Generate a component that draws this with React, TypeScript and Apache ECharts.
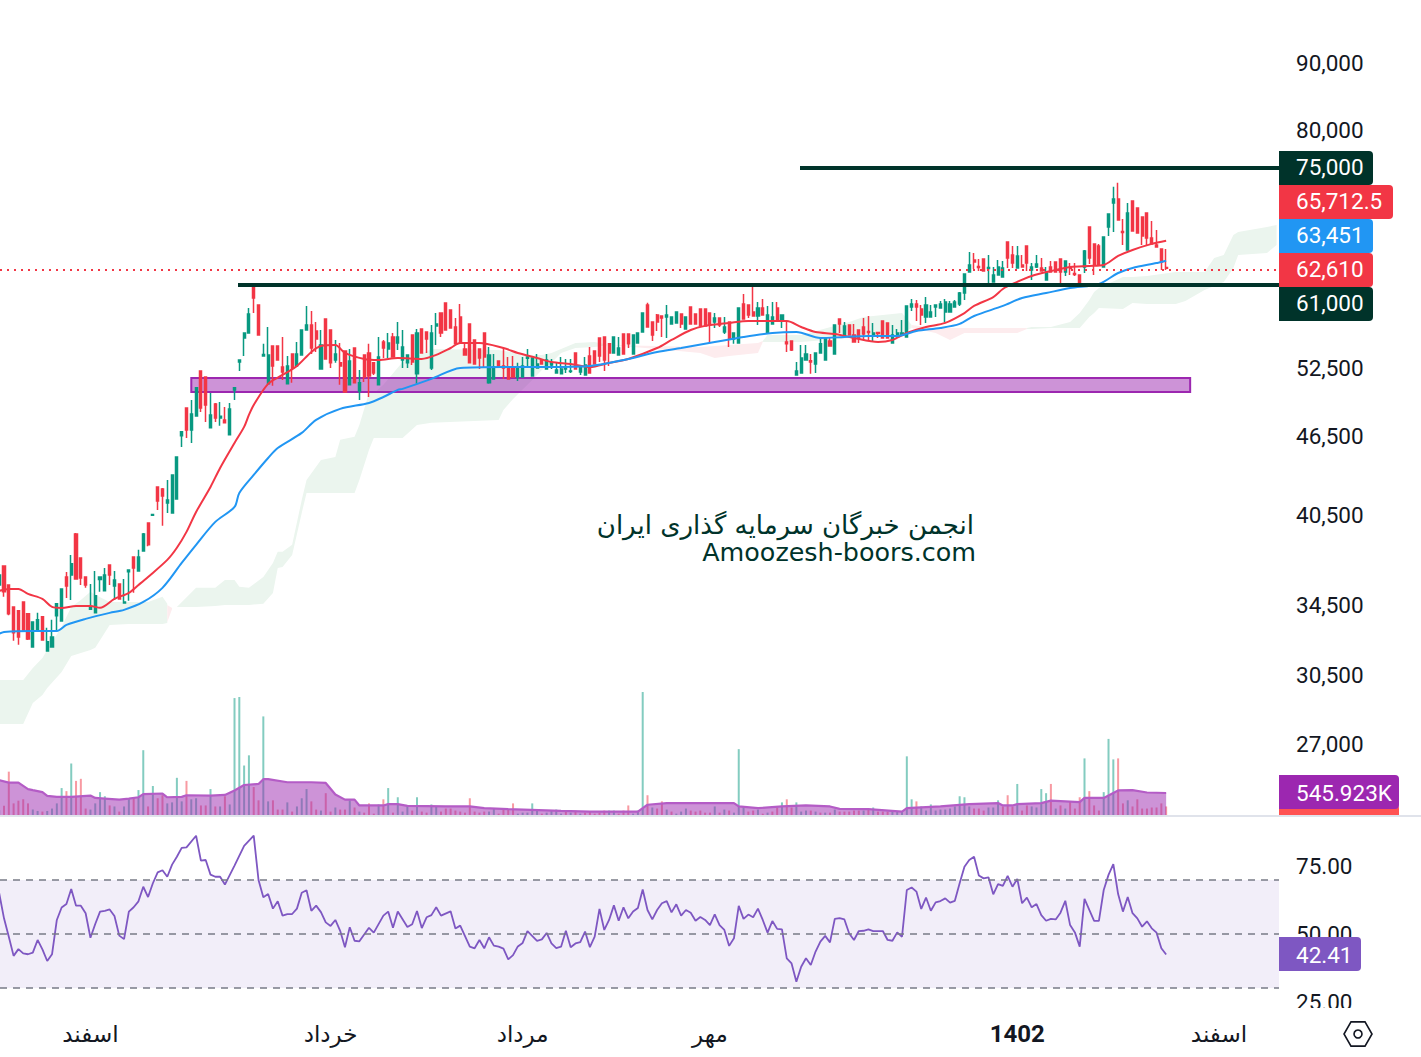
import React, { useEffect, useRef } from "react";
import * as echarts from "echarts";

// open, close, low, high
const candles: number[][] = [
[35760,36400,35760,36400],[36980,35330,35020,36980],[35760,33980,33900,35760],[34400,32860,32400,34400],[34160,32620,32170,34160],[34700,33030,33000,34700],[33980,32500,32450,33980],[32050,33500,32050,33500],[33030,33620,33000,34040],[33800,32450,32400,33800],
[31820,32340,31800,33150],[32050,32620,32000,33620],[33860,34590,33030,34590],[33560,35510,33560,35510],[36270,35700,34950,36590],[36400,37120,34830,37710],[39140,36140,36100,39200],[37510,36210,35760,37510],[36270,35760,35580,36270],[34250,34350,34250,35820],
[34040,35080,34040,36660],[36100,36270,35330,36270],[35390,36400,35390,36850],[37050,36400,35760,37100],[35700,36080,34830,36660],[35820,34890,34850,35820],[34640,34700,34640,36140],[36600,36720,34770,36720],[37580,36850,35270,37580],[36660,37580,36660,38050],
[37980,39140,37950,39200],[39910,38390,38300,39910],[40450,40500,40400,40550],[42530,41490,40830,42530],[42370,41850,39700,42450],[41340,41560,40620,43060],[40620,43440,40620,43500],[41630,44840,41630,44840],[46550,46880,45640,46880],[48900,47040,46380,48950],
[47040,48390,45970,49600],[48220,50670,48200,50670],[52210,48900,48560,52210],[51660,49160,47710,51660],[47210,48300,47210,50220],[49250,48050,47710,49340],[48050,48200,47380,49420],[47880,47630,47600,48990],[46630,48820,46630,49340],[50490,50670,49600,50670],
[53050,53240,52210,53240],[55340,55830,53610,55830],[55830,57740,55830,58360],[60780,59400,57840,60900],[58670,55640,55600,58670],[53610,53750,53610,54770],[51030,53710,51030,56430],[54570,52670,50850,54570],[54570,53240,53200,54570],[52580,52110,51390,55440],
[51030,52670,51030,53610],[53800,52490,51120,53800],[52670,53800,52670,54950],[53710,56130,53710,56130],[56130,56640,56130,58570],[56640,54370,53800,58050],[56030,55250,53990,56940],[52390,54670,52390,56130],[57240,53330,53300,57240],[56130,52960,52490,56130],
[53240,53800,52960,55150],[52960,52670,50940,54860],[54090,50310,50300,54090],[50940,53140,50940,54280],[54370,51120,51100,54370],[50400,51120,49600,52300],[53710,51660,51210,53710],[53900,51750,49860,54770],[52960,52020,51840,52960],[50940,53520,50940,55440],
[54950,54370,53420,55150],[54280,54860,53420,55830],[55440,53520,53520,55830],[54860,55440,54180,56940],
[53240,54470,52490,56130],[52960,53710,52490,53710],[55640,53050,52770,55640],[51940,55830,51030,56230],[56230,53900,53850,56230],[55930,55250,53900,55930],[52490,55830,52300,56640],[56540,56740,54670,57840],[57840,55830,55440,57840],[58880,56130,56100,58880],
[58150,56330,56300,58150],[56430,54770,54770,57340],[57440,54860,54860,58780],[54280,53710,53700,54950],[56740,52960,52950,56740],[55150,52860,52800,55150],[54280,53420,52390,54280],[55830,53520,52490,55830],[51120,53710,51030,54470],[51480,52580,51480,53800],
[53140,52580,52550,53140],[52670,52490,51480,54370],[52580,51480,51480,53520],[52490,51660,51660,53610],[51660,52490,51300,52960],[51660,52670,51660,53520],[53400,53520,52580,54280],[51750,53420,51750,53420],[52490,52860,52490,53800],[53240,52860,52800,53240],
[52390,53240,52390,53800],[52770,52960,52390,53330],[52020,52300,52020,53050],[51940,52390,51940,53520],[52400,52490,52020,53330],[52150,52210,52020,53330],[53900,52390,52390,53900],[52110,52580,51840,52770],[51840,52770,51840,53520],[53610,52020,52020,54470],
[54090,52860,52860,54090],[55340,53610,53050,55340],[55440,53240,52210,55440],[54770,53900,52670,54770],[53900,55440,53900,55500],[53710,54370,53710,55440],[55740,53800,53800,55740],[55740,54770,54370,55740],[53800,55640,53800,55640],[54860,55830,54860,55830],
[55930,57840,55930,57840],[58670,56430,56430,58900],[56940,55640,55050,56940],[57640,56940,56030,57740],[57540,57340,55440,57540],[57440,57640,55340,58670],[56740,57440,56740,57440],[56840,57950,56840,57950],[57740,56740,56330,57740],[56230,57440,56230,57440],
[58460,56740,56740,58460],[57740,56740,56740,57740],[58250,56540,56540,58250],[58250,56540,56540,58250],[57840,56640,54860,57840],[56940,57340,56330,57840],[57340,56640,56430,57340],[55930,56430,55740,57440],[56940,55250,54470,56940],[55250,55830,54770,55830],
[54860,58360,54860,58360],[58780,57240,57240,59820],[58670,57640,57340,58670],[57950,57540,57540,60780],[57540,58360,56640,58980],[58360,57640,57640,59290],[55830,57640,55830,58570],[56740,57440,56740,58980],[58360,57140,57140,58980],[57140,57640,56330,57640],
[54950,54770,53990,56940],[55050,54180,54090,55050],[51840,52210,51840,53050],[52020,53420,52020,54670],[53240,53800,53240,54670],[53150,53050,51940,53800],[52860,53900,52020,53900],[53900,54770,53900,55440],[53240,55340,53240,55340],[55050,54570,54570,55340],
[53800,56640,53800,56640],[57240,56740,55830,57240],[55540,56540,55540,56940],[56640,55640,55640,56640],[55640,54950,54950,56740],[56130,55340,54860,56130],[56430,55740,55150,57340],[55980,55880,55150,57540],[55540,55830,54950,56840],[55880,55780,55340,55930],
[57040,55340,55340,57040],[56840,55340,55340,56840],[54860,55640,54860,56640],[55440,55830,55440,56230],[55650,55830,55640,57140],[55440,58570,55440,58570],[58460,58780,58050,59290],[58780,58460,57040,59190],[58250,57640,56640,58670],[57440,58670,56840,59500],
[57440,57950,57440,58670],[58460,58670,57440,58670],[58360,58780,58360,59080],[57950,58980,56940,59290],[57950,58780,57950,59080],[58460,58980,58460,59190],[58780,59920,58570,60030],[59920,61980,59190,61980],[62190,62970,62190,64430],[63530,63300,62520,64320],
[62800,62700,62300,63640],[63640,62300,62300,63640],[62580,62680,60670,64090],[61100,61860,61100,62750],[61860,62750,61860,63530],[61640,62630,61640,63420],[65590,63750,62630,65590],[64090,63190,62630,65120],[62630,63980,62630,65120],[62970,62750,62750,64090],
[65120,63190,62300,65120],[62410,62750,61320,63190],[62750,63080,62630,64090],[62630,62300,62300,63750],[61320,62190,61320,62750],[62750,62190,62190,63420],[63300,62190,62190,63300],[63640,62190,60560,63640],[62190,63420,61750,63420],[62680,62580,61860,63190],
[62030,61930,61750,63190],[61860,60890,60890,61860],[62750,64550,62080,64660],[67350,63750,63080,67350],[65360,62970,61860,65360],[65120,62970,62970,65360],[62750,66170,62750,66170],[67350,68900,66290,68900],[70270,70770,66750,72300],[70770,68190,68190,72820],
[66800,66700,65240,68310],[64660,69030,64660,70270],[70520,66870,66870,70520],[69650,66640,66640,69650],[68550,66290,65240,68550],[69030,66050,65240,69030],[66050,65360,65360,68070],[65240,65010,65010,66990],[64770,63300,62410,64770],[62700,62610,62410,64770],
];

const fastMA: number[][] = [[0,35390],[2,35510],[4,35510],[6,35200],[9,34890],[11,34400],[13,34340],[16,34460],[19,34460],[21,34350],[24,34890],[27,35270],[29,35760],[31,36270],[35,37380],[37,38190],[39,39280],[41,40690],[44,42530],[46,43980],[49,45970],[51,47290],[52,48300],[53,49160],[56,51030],[59,51840],[62,52670],[65,53990],[67,54570],[70,54670],[72,53900],[76,53330],[79,53240],[83,53420],[88,53330],[91,53710],[94,54370],[96,54860],[100,54860],[105,54370],[108,53900],[112,53420],[115,53050],[119,52860],[123,52580],[127,52960],[131,53330],[137,54370],[140,55150],[144,56130],[147,56540],[152,56840],[156,57040],[160,57040],[164,57040],[167,56430],[170,55930],[174,55740],[178,55340],[183,54950],[186,55150],[189,55830],[193,56430],[197,56840],[201,57840],[203,58570],[207,59500],[209,60350],[211,60890],[215,61750],[219,62300],[223,62750],[227,62860],[230,62970],[233,63980],[236,64660],[240,65360],[243,65712.5]];

const slowMA: number[][] = [[0,32800],[1,32910],[7,32970],[12,32970],[14,33320],[18,33680],[23,34040],[26,34220],[30,34700],[34,35580],[38,37180],[41,38390],[45,39980],[49,41050],[50,42080],[53,43440],[56,44760],[58,45560],[63,46790],[66,47880],[71,48820],[77,49340],[80,49860],[83,50490],[84,50580],[90,51480],[96,52490],[105,52580],[114,52580],[123,52670],[131,53330],[137,53990],[142,54370],[149,54950],[155,55440],[161,55830],[166,55930],[171,55340],[176,55440],[181,55540],[187,55540],[191,56030],[196,56330],[200,56740],[203,57540],[209,58570],[213,59400],[218,59920],[223,60450],[229,60890],[233,62080],[236,62630],[241,63190],[243,63451]];

// [index, upper, lower]
const cloudGreenA: number[][] = [[0,30230,27970],[5,30230,27970],[7,30880,29030],[9,31430,29440],[10,31880,29810],[13,33210,30660],[15,34400,31540],[17,34830,31710],[19,35330,31880],[20,35140,32000],[23,34700,33320],[27,34700,33380],[31,34700,33380],[34,35020,33380],[35,34590,33440]];
const cloudRedA: number[][] = [[35,34520,33500],[36,34340,34280]];
const cloudGreenB: number[][] = [[37,34400,34400],[41,35580,34400],[45,35580,34460],[47,36080,34520],[49,36080,34520],[50,35640,34520],[52,35580,34520],[55,36270,34590],[57,37180,35260],[58,37920,36850],[59,37920,36920],[61,38390,37710],[63,41560,40620],[64,43060,42080],[67,44600,42080],[70,44840,42080],[71,46220,42080],[74,46470,42080],[75,47460,43060],[77,50220,45400],[78,50220,46380],[80,50940,46380],[84,53050,46380],[87,53610,47460],[90,54280,47630],[104,54180,47880],[105,54090,48730],[107,53990,49690],[111,53710,51390],[113,53710,52300],[115,53900,52960],[117,54280,53900],[120,54860,54370],[124,54950,54470],[127,54670,54670]];
const cloudRedC: number[][] = [[127,54670,54670],[137,54570,54280],[146,54470,53900],[149,54570,53420],[152,54670,53610],[158,54860,53900],[159,55050,54950]];
const cloudGreenD: number[][] = [[159,55050,54950],[160,55640,54950],[167,55640,54950],[177,56940,55340],[180,57440,55440],[188,57840,55830],[190,56640,56330]];
const cloudRedE: number[][] = [[190,56640,56330],[195,56330,55830],[198,56330,55150],[201,56330,55830],[212,56330,55830],[214,56330,56230]];
const cloudGreenF: number[][] = [[214,56330,56230],[215,56430,56230],[219,56430,56330],[223,56940,56330],[225,57840,56330],[227,59190,57440],[228,60030,57840],[229,60450,58360],[234,61640,58250],[236,61640,58880],[239,61750,58780],[245,62190,58780],[247,62190,59080],[251,62190,60240],[253,63750,60670],[255,64090,61100],[257,66400,62630],[258,66750,64090],[264,67350,64320],[266,67590,65240]];

const volumes: number[] = [
120,228,1075,288,355,390,288,135,100,85,
100,160,288,668,592,1277,846,897,160,135,
288,567,465,237,212,85,212,415,415,618,
1607,212,719,415,490,288,313,922,338,846,
389,415,237,237,643,212,212,465,262,2900,
2927,1227,1480,694,364,2445,338,364,135,135,
313,85,212,415,643,338,135,110,541,85,
186,135,135,364,186,85,59,288,34,262,
389,668,59,440,85,212,110,440,85,59,
262,212,85,160,160,110,85,59,415,85,
59,85,85,160,34,135,135,288,34,59,
59,288,135,34,59,110,135,34,85,59,
110,34,59,85,34,59,110,110,110,34,
110,237,34,110,3050,490,186,160,338,135,
85,34,85,160,110,85,110,59,59,212,
59,135,110,59,1633,186,85,110,135,34,
59,85,186,313,389,186,313,85,110,110,
85,59,59,59,135,85,85,85,110,110,
110,160,186,85,85,85,85,85,85,1455,
389,338,212,110,262,110,135,135,160,212,
465,440,212,160,160,110,186,186,364,212,
490,212,770,110,237,212,186,643,541,770,
160,237,160,338,160,440,1404,592,237,110,
567,1887,1379,1404,288,364,212,389,160,160,
186,186,288,212];
const volumeSides = "grrrrrrggr"+"ggggrgrrrg"+"gggrgrggrg"+"grgrrggggr"+"ggrrgrgrgg"+"gggrrggrrr"+"grgggrrgrr"+"grrgrgrrrg"+"rgrgggrgrr"+"ggrrrrrrrr"+"rrggrrrrgg"+"gggrggggrg"+"rgrrrrrggr"+"rrgggrgrrg"+"rgggrrrrrg"+"rgrgggrrgr"+"grrgrrgggr"+"grgrgrrrrr"+"grgrrrgggg"+"grgggggggg"+"gggrrrgggr"+"rrgrrggggr"+"grgrrrgrrr"+"gggrrgrrrr"+"rrrr";

const volumeMA: number[][] = [[0,863],[2,803],[4,803],[6,643],[7,617],[9,567],[10,474],[12,449],[15,449],[19,482],[20,423],[22,406],[25,381],[27,406],[29,440],[30,516],[34,533],[35,440],[38,449],[39,490],[44,482],[47,499],[49,609],[51,744],[54,770],[55,888],[56,888],[60,812],[65,812],[68,795],[70,507],[72,381],[74,381],[75,237],[80,237],[81,271],[83,271],[85,228],[93,212],[98,212],[101,169],[106,144],[117,101],[123,85],[133,85],[134,169],[135,254],[139,296],[147,296],[153,296],[154,212],[158,169],[163,212],[168,237],[173,212],[175,152],[181,144],[188,85],[189,169],[196,212],[202,271],[208,296],[209,237],[211,237],[212,271],[217,296],[219,355],[225,321],[226,423],[230,423],[233,609],[236,618],[239,558],[243,545.923]];

const rsi: number[][] = [[0,65.1],[1,55.8],[2,49.0],[3,41.9],[4,44.4],[5,42.8],[6,42.5],[7,43.1],[8,47.8],[9,44.3],[10,40.0],[11,42.5],[12,55.2],[13,59.8],[14,61.1],[15,66.7],[16,60.5],[17,60.5],[18,57.7],[19,48.6],[20,53.7],[21,58.3],[22,58.6],[23,59.1],[24,56.7],[25,49.4],[26,48.1],[27,58.3],[28,59.9],[29,62.1],[30,67.5],[31,63.7],[32,68.8],[33,72.8],[34,73.6],[35,71.2],[36,75.7],[37,78.6],[38,81.9],[39,82.1],[41,86.4],[42,77.2],[43,77.4],[44,72.0],[45,71.2],[46,71.2],[47,68.3],[49,75.3],[51,82.6],[53,86.4],[54,70.0],[55,63.6],[56,64.8],[57,59.4],[58,62.1],[59,56.8],[60,57.4],[61,57.4],[62,59.4],[63,65.3],[64,66.2],[65,58.6],[66,60.5],[67,58.1],[68,54.3],[69,53.0],[70,55.2],[71,51.2],[72,45.1],[73,52.5],[74,47.5],[75,47.3],[77,52.3],[78,50.5],[80,56.8],[81,58.3],[82,52.3],[83,58.3],[85,52.6],[86,53.6],[87,58.5],[88,52.2],[89,56.2],[90,57.0],[91,59.9],[92,56.8],[94,58.4],[95,52.0],[96,53.1],[98,45.3],[99,44.7],[100,47.8],[101,44.7],[102,48.8],[103,45.7],[104,45.3],[105,44.6],[106,40.6],[107,42.2],[108,45.4],[109,46.7],[110,51.1],[112,47.5],[113,48.0],[114,50.4],[115,46.5],[116,44.8],[117,45.3],[118,51.2],[119,45.1],[120,46.5],[121,47.0],[122,50.9],[123,45.1],[124,49.0],[125,59.3],[126,51.5],[127,55.2],[128,60.6],[129,54.9],[130,59.9],[131,55.8],[132,58.3],[133,59.6],[134,66.5],[135,58.9],[136,55.4],[137,58.9],[138,61.4],[139,62.2],[140,58.0],[141,61.0],[142,56.8],[143,58.9],[144,57.9],[145,54.9],[146,56.3],[147,55.2],[148,53.3],[149,57.3],[150,53.3],[151,51.5],[152,45.6],[153,48.4],[154,60.4],[155,55.6],[156,57.2],[157,56.2],[158,59.4],[159,55.2],[160,50.5],[161,54.8],[162,51.9],[163,51.7],[164,41.0],[165,39.1],[166,32.3],[167,37.9],[168,41.0],[169,38.5],[170,43.5],[171,47.2],[172,49.3],[173,46.9],[174,55.6],[175,55.9],[176,55.4],[177,50.2],[178,47.8],[179,51.1],[180,51.2],[181,51.7],[182,51.1],[183,51.1],[184,51.1],[185,47.8],[186,47.5],[187,50.6],[188,49.0],[189,66.3],[190,67.2],[191,65.7],[192,59.3],[193,63.5],[194,58.6],[195,61.7],[196,62.2],[197,63.2],[198,61.6],[199,62.3],[200,68.8],[201,74.9],[202,77.4],[203,78.6],[204,71.7],[205,70.6],[206,71.0],[207,64.7],[208,68.5],[209,67.8],[210,71.5],[211,67.5],[212,70.4],[213,61.4],[214,63.5],[215,59.9],[216,61.1],[217,57.0],[218,54.9],[219,55.6],[220,55.4],[221,57.9],[222,62.3],[223,53.3],[224,50.6],[225,45.3],[226,63.0],[227,58.9],[228,54.9],[229,54.9],[230,66.3],[231,71.9],[232,75.9],[233,64.8],[234,58.3],[235,63.7],[236,57.7],[237,55.8],[238,52.7],[239,54.7],[240,52.1],[241,50.5],[242,44.7],[243,42.41]];

const priceTicks = [27000, 30500, 34500, 40500, 46500, 52500, 80000, 90000];
const rsiTicks = [25, 50, 75];
const timeLabels: Record<number, string> = { 19: "اسفند", 69: "خرداد", 109: "مرداد", 148: "مهر", 212: "1402", 254: "اسفند" };
const categories: string[] = Array.from({ length: 267 }, (_, i) => timeLabels[i] ?? "");
const zoneBox = { from: 40, to: 248, upper: 51570, lower: 50310 };
const level75 = { value: 74800 };
const level61 = { value: 60790 };
const lastPrice = 62430;

const UP = "#089981";
const DOWN = "#f23645";
const DARK = "#00332a";
const TEXT = "#131722";
const AXIS_FONT = "Roboto, sans-serif";
const PERSIAN_FONT = "'DejaVu Sans', sans-serif";
const RIGHT = 1279;

function cloudSeries(rows: number[][], fill: string) {
  return {
    type: "custom",
    xAxisIndex: 0,
    yAxisIndex: 0,
    z: 1,
    silent: true,
    clip: true,
    data: rows,
    encode: { x: 0, y: [1, 2] },
    renderItem: (params: any, api: any) => {
      if (params.dataIndex !== 0) return null;
      const upper = rows.map((r) => api.coord([r[0], r[1]]));
      const lower = rows.map((r) => api.coord([r[0], r[2]])).reverse();
      return { type: "polygon", shape: { points: upper.concat(lower) }, style: { fill } };
    },
  };
}

function tag(y: number, h: number, w: number, color: string, text: string, textY: number) {
  return [
    { type: "rect", z: 100, shape: { x: RIGHT, y, width: w, height: h, r: [0, 4, 4, 0] }, style: { fill: color } },
    { type: "text", z: 101, style: { x: RIGHT + 17, y: textY, text, fill: "#ffffff", font: `22.5px ${AXIS_FONT}`, verticalAlign: "middle", align: "left" } },
  ];
}

export default function App() {
  const ref = useRef<HTMLDivElement>(null);
  useEffect(() => {
    document.body.style.margin = "0";
    const chart = echarts.init(ref.current!, undefined, { renderer: "svg" });
    const axisLabel = { show: true, inside: false, margin: 17, color: TEXT, fontSize: 22.5, fontFamily: AXIS_FONT, align: "left" as const, padding: [2, 0, 0, 0] };
    const hexR = 14;
    const hex = [0, 1, 2, 3, 4, 5].map((k) => {
      const a = (Math.PI / 3) * k;
      return [1358 + hexR * Math.cos(a), 1034 + hexR * Math.sin(a)];
    });
    const gridBase = { left: -3.2, width: 1282.2, outerBoundsMode: "none" };
    chart.setOption({
      animation: false,
      backgroundColor: "#ffffff",
      grid: [
        { ...gridBase, top: 0, height: 815 },
        { ...gridBase, top: 690, height: 125 },
        { ...gridBase, top: 817, height: 191 },
      ],
      xAxis: [
        { type: "category", gridIndex: 0, data: categories, show: false },
        { type: "category", gridIndex: 1, data: categories, show: false },
        {
          type: "category", gridIndex: 2, data: categories,
          axisLine: { show: false }, axisTick: { show: false },
          axisLabel: {
            interval: (i: number) => categories[i] !== "",
            margin: 14, color: TEXT, fontSize: 23, fontFamily: PERSIAN_FONT,
            formatter: (v: string) => (v === "1402" ? `{b|${v}}` : v),
            rich: { b: { fontWeight: "bold", fontSize: 24, fontFamily: AXIS_FONT, color: TEXT } },
          },
        },
      ],
      yAxis: [
        {
          type: "log", gridIndex: 0, position: "right", min: 23810, max: 100600, logBase: 10,
          axisLine: { show: false }, axisTick: { show: false }, splitLine: { show: false },
          axisLabel: { ...axisLabel, customValues: priceTicks, formatter: (v: number) => Math.round(v).toLocaleString("en-US") },
        },
        { type: "value", gridIndex: 1, min: 0, max: 3100, show: false },
        {
          type: "value", gridIndex: 2, position: "right", min: 22.6, max: 93.33,
          axisLine: { show: false }, axisTick: { show: false }, splitLine: { show: false },
          axisLabel: { ...axisLabel, customValues: rsiTicks, formatter: (v: number) => v.toFixed(2) },
        },
      ],
      series: [
        cloudSeries(cloudGreenA, "#ebf5ee"),
        cloudSeries(cloudRedA, "#fdecee"),
        cloudSeries(cloudGreenB, "#ebf5ee"),
        cloudSeries(cloudRedC, "#fdecee"),
        cloudSeries(cloudGreenD, "#ebf5ee"),
        cloudSeries(cloudRedE, "#fdecee"),
        cloudSeries(cloudGreenF, "#ebf5ee"),
        {
          type: "line", xAxisIndex: 0, yAxisIndex: 0, data: [], z: 2, silent: true,
          markArea: {
            silent: true, z: 2,
            itemStyle: { color: "rgba(156,39,176,0.5)", borderColor: "#9c27b0", borderWidth: 2 },
            data: [[{ xAxis: zoneBox.from, yAxis: zoneBox.upper }, { xAxis: zoneBox.to, yAxis: zoneBox.lower }]],
          },
        },
        {
          type: "candlestick", xAxisIndex: 0, yAxisIndex: 0, z: 3, data: candles, barWidth: 2.6,
          itemStyle: { color: UP, color0: DOWN, borderColor: UP, borderColor0: DOWN, borderWidth: 1.5 },
        },
        { type: "line", xAxisIndex: 0, yAxisIndex: 0, z: 4, data: fastMA, showSymbol: false, symbol: "none", smooth: 0.3, lineStyle: { color: DOWN, width: 2 }, silent: true },
        { type: "line", xAxisIndex: 0, yAxisIndex: 0, z: 4, data: slowMA, showSymbol: false, symbol: "none", smooth: 0.3, lineStyle: { color: "#2196f3", width: 2 }, silent: true },
        {
          type: "line", xAxisIndex: 0, yAxisIndex: 0, data: [], z: 5, silent: true,
          markLine: {
            silent: true, symbol: "none", label: { show: false },
            data: [
              [{ x: 800, yAxis: level75.value, lineStyle: { color: DARK, width: 4, type: "solid" } }, { x: RIGHT, yAxis: level75.value }],
              [{ x: 238, yAxis: level61.value, lineStyle: { color: DARK, width: 4, type: "solid" } }, { x: RIGHT, yAxis: level61.value }],
              [{ x: 0, yAxis: lastPrice, lineStyle: { color: DOWN, width: 1.8, type: [2, 5] } }, { x: RIGHT, yAxis: lastPrice }],
            ],
          },
        },
        {
          type: "bar", xAxisIndex: 1, yAxisIndex: 1, z: 2, barWidth: 2,
          data: volumes.map((v, i) => ({
            value: v,
            itemStyle: { color: volumeSides[i] === "g" ? "rgba(8,153,129,0.5)" : "rgba(242,54,69,0.5)" },
          })),
        },
        {
          type: "line", xAxisIndex: 1, yAxisIndex: 1, z: 3, data: volumeMA, symbol: "none", showSymbol: false, silent: true,
          lineStyle: { color: "#b45cc6", width: 2.2 }, areaStyle: { color: "rgba(156,39,176,0.5)", opacity: 1 },
        },
        {
          type: "line", xAxisIndex: 2, yAxisIndex: 2, z: 4, data: rsi, symbol: "none", showSymbol: false, silent: true,
          lineStyle: { color: "#7e57c2", width: 1.8 },
          markArea: {
            silent: true, itemStyle: { color: "rgba(126,87,194,0.1)" },
            data: [[{ x: 0, yAxis: 70 }, { x: RIGHT, yAxis: 30 }]],
          },
          markLine: {
            silent: true, symbol: "none", label: { show: false },
            lineStyle: { color: "#787b86", width: 1.5, type: [7, 6] },
            data: [70, 50, 30].map((v) => [{ x: 0, yAxis: v }, { x: RIGHT, yAxis: v }]),
          },
        },
      ],
      graphic: [
        { type: "rect", z: 90, shape: { x: 0, y: 815, width: 1421, height: 2 }, style: { fill: "#e0e3eb" } },
        { type: "rect", z: 90, shape: { x: 1280, y: 1008, width: 141, height: 49 }, style: { fill: "#ffffff" } },
        { type: "text", z: 50, style: { x: 974, y: 525, text: "انجمن خبرگان سرمایه گذاری ایران", fill: DARK, font: `26px ${PERSIAN_FONT}`, align: "right", verticalAlign: "middle" } },
        { type: "text", z: 50, style: { x: 976, y: 552, text: "Amoozesh-boors.com", fill: DARK, font: `25.4px ${PERSIAN_FONT}`, align: "right", verticalAlign: "middle" } },
        ...tag(151, 34, 94, DARK, "75,000", 167),
        ...tag(185, 34, 114, DOWN, "65,712.5", 201),
        ...tag(219, 34, 94, "#2196f3", "63,451", 235),
        ...tag(253, 34, 94, DOWN, "62,610", 269),
        ...tag(287, 34, 94, DARK, "61,000", 303),
        { type: "rect", z: 100, shape: { x: RIGHT, y: 805, width: 120, height: 10, r: [0, 4, 0, 0] }, style: { fill: "#ff5252" } },
        ...tag(775, 34, 120, "#9c27b0", "545.923K", 793),
        ...tag(937, 34, 82, "#7e57c2", "42.41", 955),
        { type: "polygon", z: 100, shape: { points: hex }, style: { fill: "none", stroke: TEXT, lineWidth: 1.6 } },
        { type: "circle", z: 100, shape: { cx: 1358, cy: 1034, r: 4 }, style: { fill: "none", stroke: TEXT, lineWidth: 1.6 } },
      ],
    });
    return () => chart.dispose();
  }, []);
  return <div ref={ref} style={{ position: "absolute", left: 0, top: 0, width: 1421, height: 1057 }} />;
}
